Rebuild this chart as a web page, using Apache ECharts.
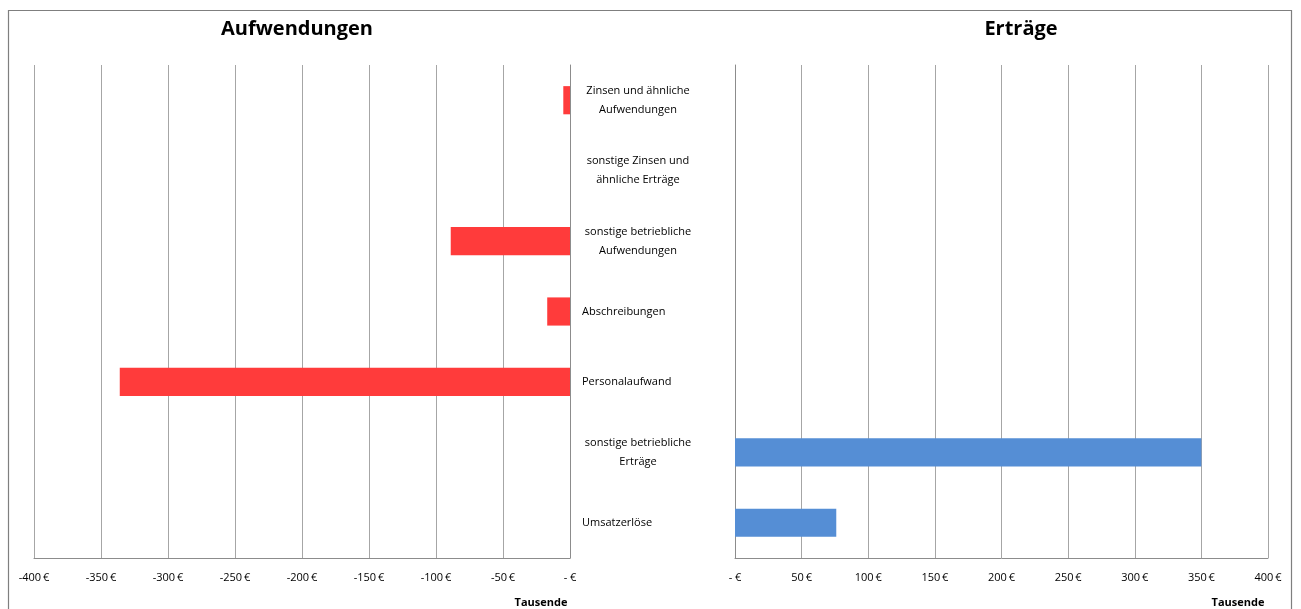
<!DOCTYPE html>
<html>
<head>
<meta charset="utf-8">
<script src="https://cdn.jsdelivr.net/npm/echarts@6/dist/echarts.min.js"></script>
<style>
  html, body { margin: 0; padding: 0; background: #fff; }
  #chart { width: 1301px; height: 609px; }
</style>
</head>
<body>
<div id="chart"></div>
<script>
// Kategorien von unten nach oben (Reihenfolge der Kategorieachse)
const categories = [
  'Umsatzerlöse',
  'sonstige betriebliche\nErträge',
  'Personalaufwand',
  'Abschreibungen',
  'sonstige betriebliche\nAufwendungen',
  'sonstige Zinsen und\nähnliche Erträge',
  'Zinsen und ähnliche\nAufwendungen'
];
// Werte in Tausend Euro
const aufwendungen = [null, null, -336, -17, -89, null, -5];
const ertraege = [76, 350, null, null, null, 0, null];
const ticksLeft = { min: -400, max: 0, step: 50 };
const ticksRight = { min: 0, max: 400, step: 50 };

const FONT = 'Open Sans';

function euro(v) {
  return v === 0 ? '- \u20ac' : v + '\u2009\u20ac';
}

function categoryLabel(text) {
  const lines = text.split('\n');
  if (lines.length === 1) return '{s|' + text + '}';
  return lines.map(l => '{m|' + l + '}').join('\n');
}

const chart = echarts.init(document.getElementById('chart'), null, { renderer: 'canvas' });

const axisLineStyle = { color: '#8c8c8c', width: 1 };
const gridLineStyle = { color: '#a6a6a6', width: 1 };
const tickLabel = { fontFamily: FONT, fontSize: 11, color: '#000', margin: 14, formatter: euro };

chart.setOption({
  animation: false,
  backgroundColor: '#fff',
  title: [
    { text: 'Aufwendungen', left: 292, top: 14, textAlign: 'center',
      textStyle: { fontFamily: FONT, fontSize: 20, fontWeight: 'bold', color: '#000' } },
    { text: 'Erträge', left: 1016, top: 14, textAlign: 'center',
      textStyle: { fontFamily: FONT, fontSize: 20, fontWeight: 'bold', color: '#000' } },
    { text: 'Tausende', left: 536, top: 592, textAlign: 'center',
      textStyle: { fontFamily: FONT, fontSize: 11, fontWeight: 'bold', color: '#000' } },
    { text: 'Tausende', left: 1233, top: 592, textAlign: 'center',
      textStyle: { fontFamily: FONT, fontSize: 11, fontWeight: 'bold', color: '#000' } }
  ],
  graphic: [
    { type: 'rect', left: 6, top: 8, z: -10, silent: true,
      shape: { width: 1283, height: 620 },
      style: { fill: 'none', stroke: '#7f7f7f', lineWidth: 1.2 } }
  ],
  grid: [
    { left: 34, right: 731, top: 65, bottom: 51 },
    { left: 735, right: 33, top: 65, bottom: 51 }
  ],
  xAxis: [
    { type: 'value', gridIndex: 0, min: ticksLeft.min, max: ticksLeft.max, interval: ticksLeft.step,
      axisLine: { show: true, lineStyle: axisLineStyle }, axisTick: { show: false },
      splitLine: { show: true, lineStyle: gridLineStyle }, axisLabel: tickLabel },
    { type: 'value', gridIndex: 1, min: ticksRight.min, max: ticksRight.max, interval: ticksRight.step,
      axisLine: { show: true, lineStyle: axisLineStyle }, axisTick: { show: false },
      splitLine: { show: true, lineStyle: gridLineStyle }, axisLabel: tickLabel }
  ],
  yAxis: [
    { type: 'category', gridIndex: 0, data: categories, position: 'right',
      axisLine: { show: true, onZero: false, lineStyle: axisLineStyle }, axisTick: { show: false },
      axisLabel: {
        margin: 12, align: 'left', formatter: categoryLabel,
        rich: {
          s: { fontFamily: FONT, fontSize: 11, color: '#000', lineHeight: 19 },
          m: { fontFamily: FONT, fontSize: 11, color: '#000', lineHeight: 19, width: 112, align: 'center' }
        }
      } },
    { type: 'category', gridIndex: 1, data: categories, position: 'left',
      axisLine: { show: true, onZero: false, lineStyle: axisLineStyle }, axisTick: { show: false },
      axisLabel: { show: false } }
  ],
  series: [
    { name: 'Aufwendungen', type: 'bar', xAxisIndex: 0, yAxisIndex: 0, data: aufwendungen,
      barWidth: '40%', itemStyle: { color: '#ff3b3b' } },
    { name: 'Erträge', type: 'bar', xAxisIndex: 1, yAxisIndex: 1, data: ertraege,
      barWidth: '40%', itemStyle: { color: '#558ed5' } }
  ]
});
</script>
</body>
</html>
